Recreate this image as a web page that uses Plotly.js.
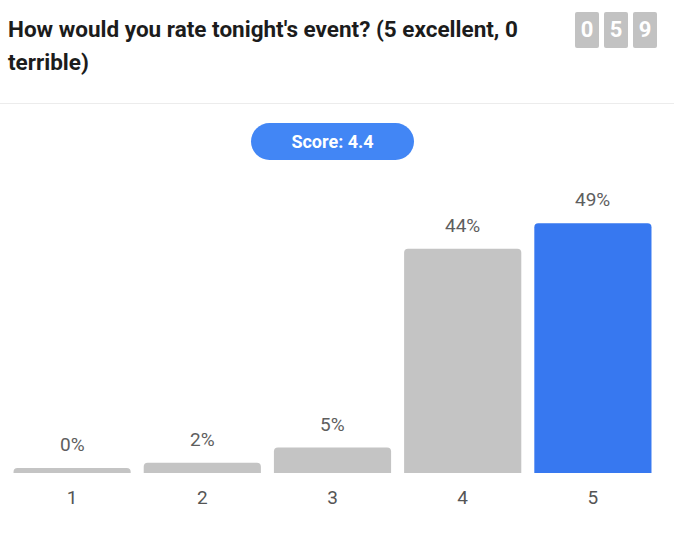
<!DOCTYPE html>
<html>
<head>
<meta charset="utf-8">
<script src="https://cdn.plot.ly/plotly-3.0.1.min.js"></script>
<style>
  html, body { margin: 0; padding: 0; background: #fff; width: 674px; height: 546px; overflow: hidden; font-family: Roboto, "Noto Sans", sans-serif; }
  #title { position: absolute; left: 8px; top: 13px; width: 545px; font-size: 22.5px; font-weight: bold; line-height: 33px; color: #1c1c1c; }
  #counter { position: absolute; top: 12px; left: 575px; display: flex; gap: 5px; }
  .digit { width: 24px; height: 36px; background: #c2c2c2; color: #fff; font-weight: bold; font-size: 22px; line-height: 36px; text-align: center; border-radius: 2px; }
  #sep { position: absolute; left: 0; top: 103px; width: 674px; height: 1px; background: #ececec; }
  #pill { position: absolute; left: 251px; top: 123px; width: 163px; height: 37px; border-radius: 19px; background: #4286f5; color: #fff; font-weight: bold; font-size: 18px; line-height: 37px; text-align: center; }
  #chart { position: absolute; left: 0; top: 0; width: 674px; height: 546px; }
</style>
</head>
<body>
<div id="chart"></div>
<div id="title"></div>
<div id="counter"></div>
<div id="sep"></div>
<div id="pill"></div>
<script>
// Data
const titleText = "How would you rate tonight's event? (5 excellent, 0 terrible)";
const categories = ["1", "2", "3", "4", "5"];
const percents = [0, 2, 5, 44, 49];
const responseCount = "059";
const scoreText = "Score: 4.4";
const highlightIndex = 4;

const minStub = 1; // minimum visible bar height (in % units) for zero values
const grey = "#c4c4c4";
const blue = "#3778f0";

document.getElementById("title").textContent = titleText;
document.getElementById("pill").textContent = scoreText;
const counter = document.getElementById("counter");
for (const ch of responseCount) {
  const d = document.createElement("div");
  d.className = "digit";
  d.textContent = ch;
  counter.appendChild(d);
}

const shown = percents.map(v => Math.max(v, minStub));
const colors = percents.map((v, i) => i === highlightIndex ? blue : grey);

const trace = {
  type: "bar",
  x: categories,
  y: shown,
  marker: { color: colors, cornerradius: 4 },
  width: 0.9,
  hoverinfo: "skip"
};

const annotations = categories.map((c, i) => ({
  x: i, y: shown[i], xref: "x", yref: "y",
  text: percents[i] + "%",
  showarrow: false,
  yanchor: "bottom",
  yshift: 10,
  font: { family: "Roboto", size: 19, color: "#5e5e5e" }
}));

const layout = {
  width: 674, height: 546,
  margin: { l: 7, r: 16, t: 180, b: 73 },
  paper_bgcolor: "rgba(0,0,0,0)",
  plot_bgcolor: "rgba(0,0,0,0)",
  showlegend: false,
  xaxis: {
    type: "category",
    range: [-0.5, 4.5],
    showgrid: false, zeroline: false, showline: false, ticks: "",
    tickfont: { family: "Roboto", size: 19, color: "#555555" },
    ticklabelstandoff: 11,
    fixedrange: true
  },
  yaxis: {
    range: [0, 57.5],
    visible: false,
    fixedrange: true
  },
  annotations: annotations
};

Plotly.newPlot("chart", [trace], layout, { displayModeBar: false, staticPlot: true });
</script>
</body>
</html>
